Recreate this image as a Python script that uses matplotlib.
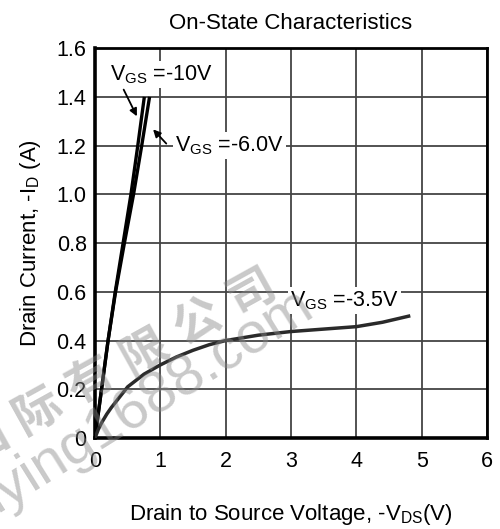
import matplotlib
matplotlib.use("Agg")
import matplotlib.pyplot as plt
import math

plt.rcParams['font.family'] = ['Liberation Sans', 'Noto Sans CJK SC', 'DejaVu Sans']
plt.rcParams['mathtext.fontset'] = 'custom'
plt.rcParams['mathtext.rm'] = 'Liberation Sans'
plt.rcParams['mathtext.it'] = 'Liberation Sans'

# Data
vds_10 = [0, 0.1, 0.2, 0.31, 0.43, 0.55, 0.655, 0.755]
id_10 = [0, 0.2, 0.4, 0.6, 0.8, 1.0, 1.2, 1.4]
vds_6 = [0, 0.1, 0.2, 0.315, 0.45, 0.59, 0.715, 0.835]
id_6 = [0, 0.2, 0.4, 0.6, 0.8, 1.0, 1.2, 1.4]
vds_35 = [0, 0.05, 0.1, 0.18, 0.25, 0.5, 0.75, 1.0, 1.25, 1.5, 1.75, 2.0, 2.5, 3.0, 3.5, 4.0, 4.4, 4.8]
id_35 = [0, 0.035, 0.062, 0.098, 0.125, 0.21, 0.262, 0.30, 0.333, 0.36, 0.383, 0.40, 0.422, 0.437, 0.447, 0.457, 0.475, 0.50]
xticks = [0, 1, 2, 3, 4, 5, 6]
yticks = [0, 0.2, 0.4, 0.6, 0.8, 1.0, 1.2, 1.4, 1.6]
ytick_labels = ['0', '0.2', '0.4', '0.6', '0.8', '1.0', '1.2', '1.4', '1.6']

W, H = 500, 529
fig = plt.figure(figsize=(5, 5.29), dpi=100)
ax = fig.add_axes([0.19, 0.172, 0.784, 0.737])
ax.set_xlim(0, 6)
ax.set_ylim(0, 1.6)
ax.set_xticks(xticks)
ax.set_yticks(yticks)
ax.set_yticklabels(ytick_labels)
ax.tick_params(length=0, labelsize=15.5)
ax.tick_params(axis='x', pad=9)
ax.tick_params(axis='y', pad=6)
ax.grid(True, color='#444444', linewidth=1.3)
ax.set_axisbelow(True)
for s in ['left', 'bottom']:
    ax.spines[s].set_linewidth(2.6)
for s in ['top', 'right']:
    ax.spines[s].set_linewidth(2.0)

ax.plot(vds_10, id_10, color='black', lw=2.4, solid_capstyle='butt', zorder=3)
ax.plot(vds_6, id_6, color='black', lw=2.4, solid_capstyle='butt', zorder=3)
ax.plot(vds_35, id_35, color='#2a2a2a', lw=2.5, zorder=3)

bbox = dict(facecolor='white', edgecolor='none', pad=1.5)
ax.text(0.23, 1.49, r'V$_{\rm GS}$ =-10V', fontsize=15.5, va='center', ha='left', bbox=bbox, zorder=4)
ax.annotate('', xy=(0.66, 1.31), xytext=(0.42, 1.44),
            arrowprops=dict(arrowstyle='-|>', color='black', lw=1.3, mutation_scale=11), zorder=4)
ax.text(1.23, 1.20, r'V$_{\rm GS}$ =-6.0V', fontsize=15.5, va='center', ha='left', bbox=bbox, zorder=4)
ax.annotate('', xy=(0.86, 1.275), xytext=(1.12, 1.20),
            arrowprops=dict(arrowstyle='-|>', color='black', lw=1.3, mutation_scale=11), zorder=4)
ax.text(2.98, 0.565, r'V$_{\rm GS}$ =-3.5V', fontsize=15.5, va='center', ha='left', bbox=bbox, zorder=2)

ax.set_title('On-State Characteristics', fontsize=16, pad=14)
ax.set_xlabel(r'Drain to Source Voltage, -V$_{\rm DS}$(V)', fontsize=16, labelpad=22)
ax.set_ylabel(r'Drain Current, -I$_{\rm D}$ (A)', fontsize=16, labelpad=10)

# watermark
wm_chars = '国际有限公司'
ang = 29
step = 61
cx0, cy0 = -16, 440
for i, ch in enumerate(wm_chars):
    px = cx0 + i * step * math.cos(math.radians(ang))
    py = cy0 - i * step * math.sin(math.radians(ang))
    fig.text(px / W, 1 - py / H, ch, fontsize=34, color='#888888', alpha=0.45,
             fontweight='bold', rotation=ang, rotation_mode='anchor',
             ha='center', va='center', family=['Noto Sans CJK SC'], zorder=10)
fig.text(-3 / W, 1 - 513 / H, 'lying1688.com', fontsize=42, color='#888888', alpha=0.45,
         rotation=32, rotation_mode='anchor', ha='left', va='baseline', zorder=10)

fig.savefig('out.png', dpi=100)
